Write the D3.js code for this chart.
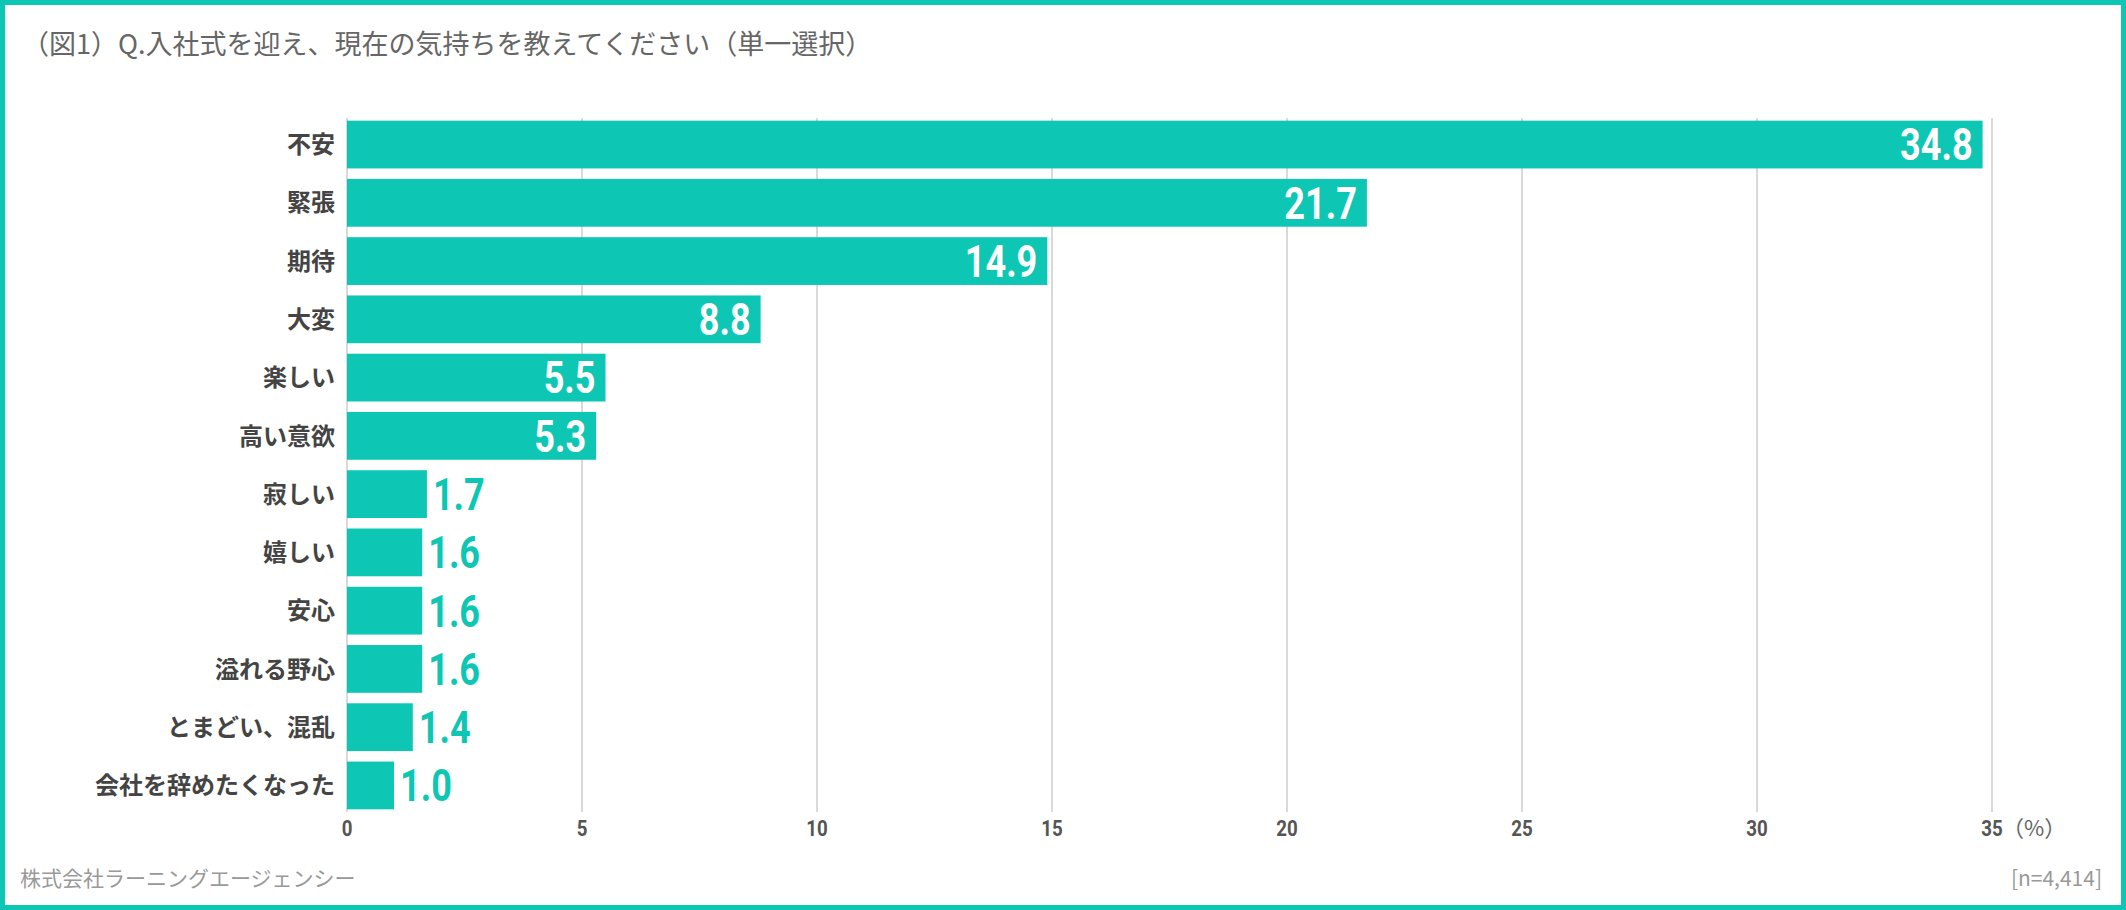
<!DOCTYPE html>
<html><head><meta charset="utf-8">
<script src="https://cdn.jsdelivr.net/npm/d3@7"></script>
<style>body{margin:0;background:#fff}svg{display:block}</style>
</head><body><svg id="c" width="2126" height="910"></svg>
<script>
var categories = ["不安","緊張","期待","大変","楽しい","高い意欲","寂しい","嬉しい","安心","溢れる野心","とまどい、混乱","会社を辞めたくなった"];
var values = [34.8,21.7,14.9,8.8,5.5,5.3,1.7,1.6,1.6,1.6,1.4,1.0];
var ticks = [0,5,10,15,20,25,30,35];

var teal = "#0dc6b4";
var W = 2126, H = 910;
var svg = d3.select("#c");
var jp = "'Noto Sans CJK JP', sans-serif";

svg.append("rect").attr("x",2.5).attr("y",2.5).attr("width",W-5).attr("height",H-5)
	.attr("fill","none").attr("stroke",teal).attr("stroke-width",5);

svg.append("text").attr("x",22).attr("y",54).attr("font-family",jp).attr("font-size",27)
	.attr("fill","#666").text("（図1）Q.入社式を迎え、現在の気持ちを教えてください（単一選択）");

var x = d3.scaleLinear().domain([0,35]).range([347,1992]);
var y = d3.scaleBand().domain(categories).range([116,814]).paddingInner(0.18).paddingOuter(0.08);

// grid
svg.selectAll(".grid").data(ticks).enter().append("line")
	.attr("x1",function(d){return x(d);}).attr("x2",function(d){return x(d);})
	.attr("y1",118).attr("y2",812)
	.attr("stroke","#ccc").attr("stroke-width",1.5);

svg.selectAll(".bar").data(values).enter().append("rect")
	.attr("x",x(0)).attr("y",function(d,i){return y(categories[i]);})
	.attr("width",function(d){return x(d)-x(0);}).attr("height",y.bandwidth())
	.attr("fill",teal);

// category labels
svg.selectAll(".cat").data(categories).enter().append("text")
	.attr("x",x(0)-12).attr("y",function(d){return y(d)+y.bandwidth()/2;})
	.attr("dy","0.36em").attr("text-anchor","end")
	.attr("font-family",jp).attr("font-weight",700).attr("font-size",24)
	.attr("fill","#444").text(function(d){return d;});

// value labels (condensed look via scaleX)
svg.selectAll(".val").data(values).enter().append("text")
	.attr("transform",function(d,i){
		var inside = d > 4;
		var px = inside ? x(d)-10 : x(d)+6;
		return "translate("+px+","+(y(categories[i])+y.bandwidth()/2)+") scale(0.82,1)";
	})
	.attr("dy","0.36em")
	.attr("text-anchor",function(d){return d > 4 ? "end" : "start";})
	.attr("font-family","Roboto, sans-serif").attr("font-weight",700).attr("font-size",44)
	.attr("fill",function(d){return d > 4 ? "#fff" : teal;})
	.text(function(d){return d.toFixed(1);});

// axis tick labels
svg.selectAll(".tick").data(ticks).enter().append("text")
	.attr("transform",function(d){return "translate("+x(d)+",836) scale(0.85,1)";})
	.attr("text-anchor","middle")
	.attr("font-family","Roboto, sans-serif").attr("font-weight",700).attr("font-size",22)
	.attr("fill","#555").text(function(d){return d;});
svg.append("text").attr("x",x(35)+10).attr("y",836).attr("font-family",jp).attr("font-size",22)
	.attr("fill","#666").text("（%）");

svg.append("text").attr("x",20).attr("y",886).attr("font-family",jp).attr("font-size",21)
	.attr("fill","#999").text("株式会社ラーニングエージェンシー");
svg.append("text").attr("x",2102).attr("y",886).attr("text-anchor","end").attr("font-family",jp).attr("font-size",21)
	.attr("fill","#999").text("[n=4,414]");
</script></body></html>
